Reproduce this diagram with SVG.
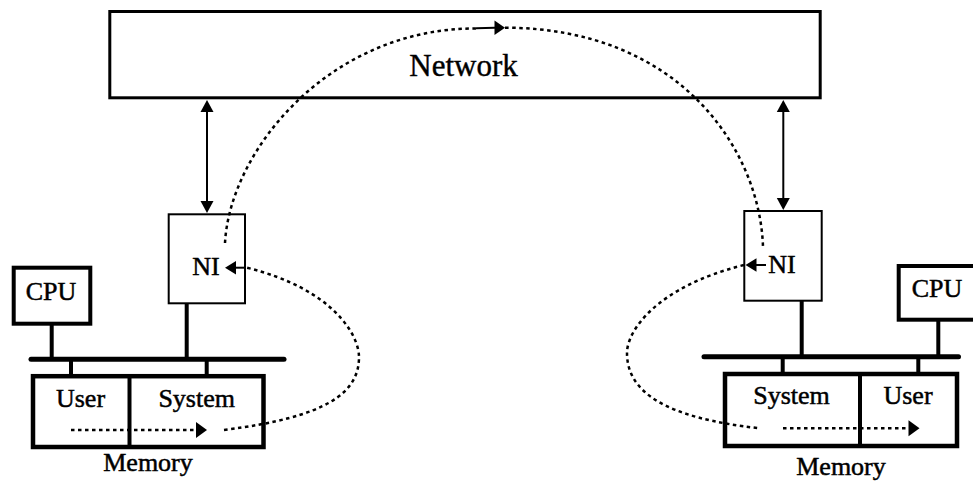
<svg xmlns="http://www.w3.org/2000/svg" width="973" height="482" viewBox="0 0 973 482">
  <style>
    .lbl { font-family: "Liberation Serif", "Times New Roman", serif; font-size: 26px; fill: #000; stroke: #000; stroke-width: 0.5; text-anchor: middle; }
    .big { font-size: 31px; stroke-width: 0.4; }
    .thick { fill: #fff; stroke: #000; stroke-width: 4.5; }
    .cpu { fill: #fff; stroke: #000; stroke-width: 4; }
    .ni { fill: #fff; stroke: #000; stroke-width: 2; }
    .net { fill: #fff; stroke: #000; stroke-width: 3; }
    .bus { stroke: #000; stroke-width: 5; stroke-linecap: round; fill: none; }
    .stem { stroke: #000; stroke-width: 4; fill: none; }
    .link { stroke: #000; stroke-width: 2; fill: none; }
    .flow { stroke: #000; stroke-width: 2.5; stroke-dasharray: 3.5 3.5; fill: none; }
    .head { fill: #000; stroke: none; }
  </style>
  <rect width="973" height="482" fill="#fff"/>

  <!-- Network -->
  <g id="network">
    <rect class="net" x="109.8" y="11.5" width="710.4" height="86.3"/>
    <text class="lbl big" x="463.5" y="76">Network</text>
  </g>

  <!-- Left host -->
  <g id="ni-left">
    <rect class="ni" x="168.7" y="214.3" width="76.3" height="89"/>
    <text class="lbl" x="206" y="275">NI</text>
  </g>
  <g id="cpu-left">
    <rect class="cpu" x="13.7" y="267.7" width="76.6" height="56"/>
    <text class="lbl" x="51" y="300">CPU</text>
  </g>
  <g id="bus-left">
    <line class="bus" x1="31" y1="359.3" x2="284" y2="359.3"/>
    <line class="stem" x1="51.7" y1="324" x2="51.7" y2="359"/>
    <line class="stem" x1="186.7" y1="303" x2="186.7" y2="359"/>
    <line class="stem" x1="71" y1="359" x2="71" y2="376"/>
    <line class="stem" x1="206.7" y1="359" x2="206.7" y2="376"/>
  </g>
  <g id="memory-left">
    <rect class="thick" x="33" y="376.2" width="230.5" height="70.8"/>
    <line class="stem" x1="129.5" y1="376" x2="129.5" y2="447"/>
    <text class="lbl" x="80.5" y="406.5">User</text>
    <text class="lbl" x="196.7" y="406.5">System</text>
    <text class="lbl" x="148" y="471">Memory</text>
  </g>

  <!-- Right host -->
  <g id="ni-right">
    <rect class="ni" x="744.3" y="211" width="77.4" height="89.7"/>
    <text class="lbl" x="782" y="272.7">NI</text>
  </g>
  <g id="cpu-right">
    <rect class="cpu" x="898.7" y="266" width="80" height="53.7"/>
    <text class="lbl" x="937" y="297.3">CPU</text>
  </g>
  <g id="bus-right">
    <line class="bus" x1="704" y1="356.7" x2="958.5" y2="356.7"/>
    <line class="stem" x1="938.3" y1="320" x2="938.3" y2="357"/>
    <line class="stem" x1="801.7" y1="300" x2="801.7" y2="357"/>
    <line class="stem" x1="782.7" y1="357" x2="782.7" y2="374"/>
    <line class="stem" x1="918.3" y1="357" x2="918.3" y2="374"/>
  </g>
  <g id="memory-right">
    <rect class="thick" x="725" y="374" width="232" height="72"/>
    <line class="stem" x1="860" y1="374" x2="860" y2="446"/>
    <text class="lbl" x="791.5" y="404">System</text>
    <text class="lbl" x="908" y="404">User</text>
    <text class="lbl" x="841" y="475">Memory</text>
  </g>

  <!-- Connectors -->
  <g id="connectors">
    <!-- NI to network links -->
    <line class="link" x1="207" y1="110" x2="207" y2="202"/>
    <polygon class="head" points="207,100 200.5,112 213.5,112"/>
    <polygon class="head" points="207,213 200.5,201 213.5,201"/>
    <line class="link" x1="783.3" y1="110" x2="783.3" y2="199"/>
    <polygon class="head" points="783.3,100 776.8,112 789.8,112"/>
    <polygon class="head" points="783.3,210 776.8,198 789.8,198"/>

    <!-- Left: user to system buffer -->
    <line class="flow" x1="71" y1="430" x2="196" y2="430"/>
    <polygon class="head" points="207,430 196,422 196,438"/>

    <!-- Left: system buffer to NI -->
    <path class="flow" d="M224,430 C 327,417 359,393 359,357 C 359,335 333,289 247,267.7"/>
    <line class="link" x1="234" y1="267.7" x2="246" y2="267.7"/>
    <polygon class="head" points="225,267.7 236,261 236,274.4"/>

    <!-- Across the network -->
    <path class="flow" d="M225,243 C 230,150 330,28 476,28.5"/>
    <line class="link" x1="476" y1="28.3" x2="495" y2="27.8"/>
    <polygon class="head" points="505,27.7 494.5,20.5 494.5,35"/>
    <path class="flow" d="M505,27.7 C 680,28 760,150 763,247"/>

    <!-- Right: NI to system buffer -->
    <line class="link" x1="755" y1="265" x2="766" y2="265"/>
    <polygon class="head" points="745.5,265 756.5,258.3 756.5,271.7"/>
    <path class="flow" d="M744,265 C 656,287 627,331 627,353 C 627,392 665,418 760,428.3"/>

    <!-- Right: system buffer to user -->
    <line class="flow" x1="783" y1="428.3" x2="908" y2="428.3"/>
    <polygon class="head" points="919.5,428.3 908.5,420.3 908.5,436.3"/>
  </g>
</svg>
